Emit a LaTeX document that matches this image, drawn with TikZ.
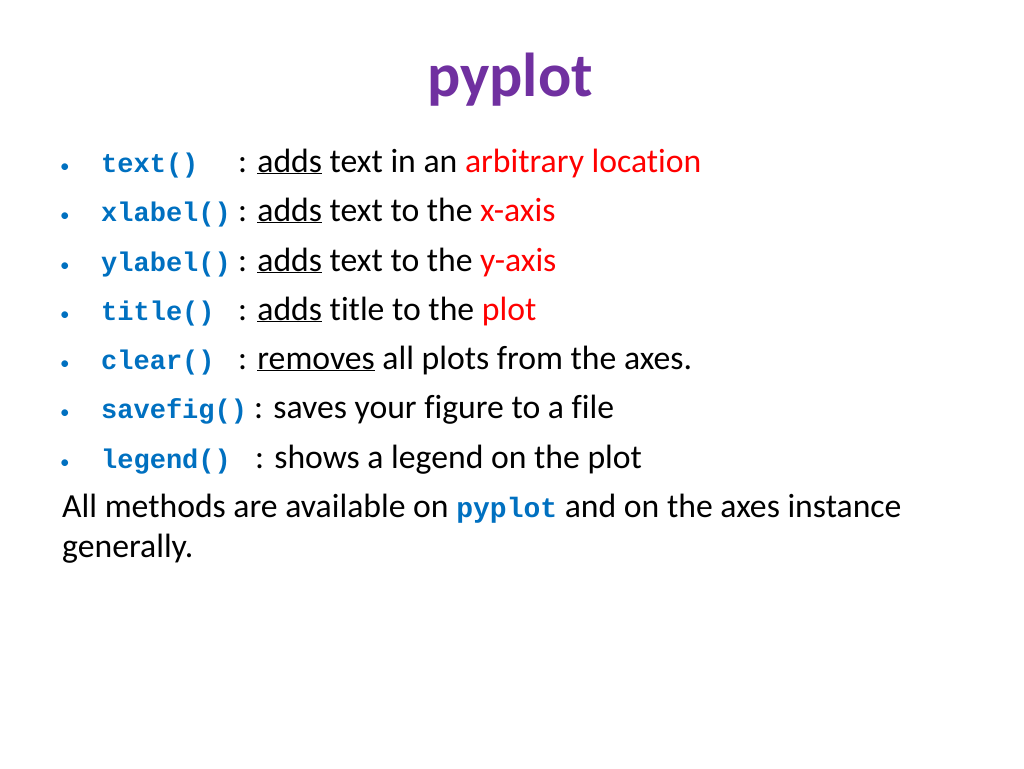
\documentclass[tikz,border=0pt]{standalone}
\usepackage{fontspec}
\setmainfont[Ligatures=NoCommon]{Carlito}
\newfontfamily\codefont{Liberation Mono}
\definecolor{codeblue}{RGB}{0,112,192}
\definecolor{ttlpurple}{RGB}{112,48,160}
\definecolor{hotred}{RGB}{255,0,0}
\newcommand{\cd}[1]{{\fontsize{28}{32}\selectfont\codefont\bfseries\color{codeblue}#1}}
\begin{document}
\begin{tikzpicture}[x=1pt,y=-1pt,
  txt/.style={anchor=base west,inner sep=0pt,font=\fontsize{33.7}{38}\selectfont},
  code/.style={anchor=base west,inner sep=0pt,font=\fontsize{27}{30}\selectfont\codefont\bfseries,text=codeblue},
  bul/.style={anchor=base west,inner sep=0pt,font=\fontsize{19}{22}\selectfont,text=codeblue}]
\useasboundingbox (0,0) rectangle (1024,768);
\node[anchor=base,inner sep=0pt,font=\fontsize{62}{68}\selectfont\bfseries,text=ttlpurple] (title) at (510,96) {pyplot};
\foreach \i/\y in {1/172,2/221,3/271,4/320,5/369,6/418,7/468}{
  \node[bul] (b\i) at (60,\y) {\textbullet};
}
\node[code] (c1) at (101,172) {text()};
\node[txt] (t1) at (238,172) {: \underline{adds} text in an {\color{hotred}arbitrary location}};
\node[code] (c2) at (101,221) {xlabel()};
\node[txt] (t2) at (238,221) {: \underline{adds} text to the {\color{hotred}x-axis}};
\node[code] (c3) at (101,271) {ylabel()};
\node[txt] (t3) at (238,271) {: \underline{adds} text to the {\color{hotred}y-axis}};
\node[code] (c4) at (101,320) {title()};
\node[txt] (t4) at (238,320) {: \underline{adds} title to the {\color{hotred}plot}};
\node[code] (c5) at (101,369) {clear()};
\node[txt] (t5) at (238,369) {: \underline{removes} all plots from the axes.};
\node[code] (c6) at (101,418) {savefig()};
\node[txt] (t6) at (254,418) {: saves your figure to a file};
\node[code] (c7) at (101,468) {legend()};
\node[txt] (t7) at (255,468) {: shows a legend on the plot};
\node[txt] (p1) at (62,517) {All methods are available on \cd{pyplot} and on the axes instance};
\node[txt] (p2) at (62,557) {generally.};
\end{tikzpicture}
\end{document}
